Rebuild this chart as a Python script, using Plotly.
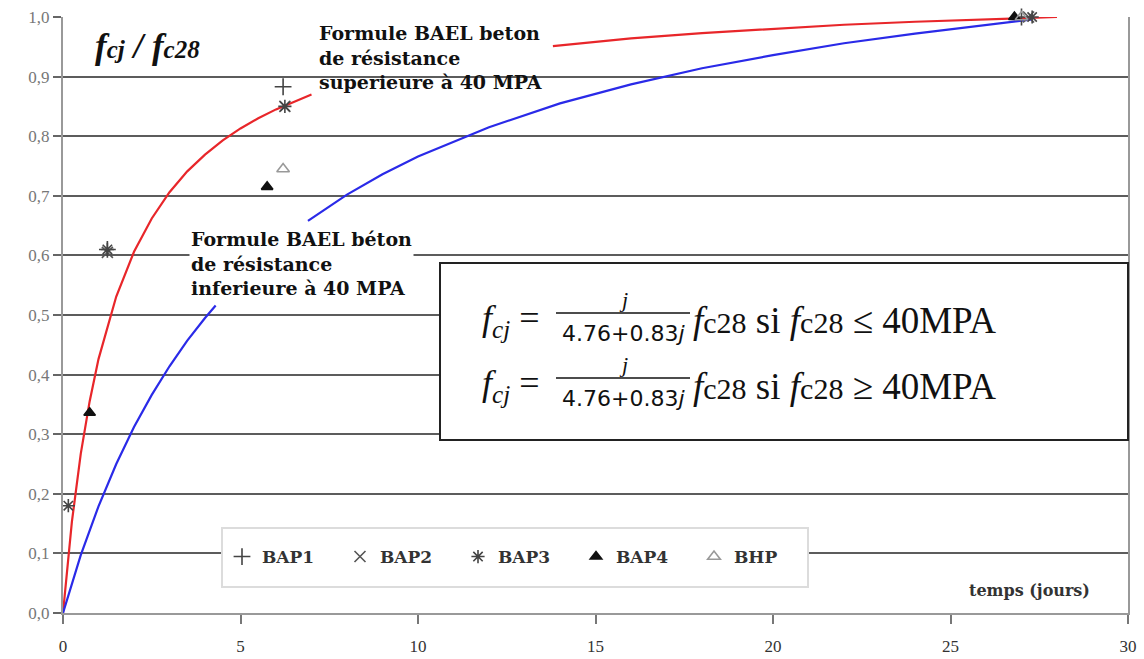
import plotly.graph_objects as go

# ---- curves (BAEL formulas) ----
red_x1 = [0, 0.25, 0.5, 0.75, 1, 1.5, 2, 2.5, 3, 3.5, 4, 4.5, 5, 5.5, 6, 6.5, 7]
red_y1 = [0, 0.153, 0.267, 0.355, 0.426, 0.531, 0.606, 0.662, 0.706, 0.741, 0.769,
          0.793, 0.813, 0.830, 0.845, 0.858, 0.870]
red_x2 = [13.8, 16, 18, 20, 22, 24, 26, 28]
red_y2 = [0.951, 0.964, 0.973, 0.980, 0.987, 0.992, 0.996, 1.0]

blue_x1 = [0, 0.5, 1, 1.5, 2, 2.5, 3, 3.5, 4, 4.3]
blue_y1 = [0, 0.097, 0.179, 0.250, 0.312, 0.366, 0.414, 0.457, 0.495, 0.516]
blue_x2 = [6.9, 8, 9, 10, 12, 14, 16, 18, 20, 22, 24, 26, 27.3]
blue_y2 = [0.658, 0.702, 0.736, 0.766, 0.815, 0.855, 0.887, 0.914, 0.936, 0.956,
           0.972, 0.987, 0.996]

# ---- measured points ----
bap1_x = [1.25, 6.2, 27.0]
bap1_y = [0.61, 0.883, 1.0]
bap2_x = [1.25, 6.25, 27.2]
bap2_y = [0.605, 0.85, 1.0]
bap3_x = [0.15, 1.25, 6.25, 27.3]
bap3_y = [0.18, 0.61, 0.85, 1.0]
bap4_x = [0.75, 5.75, 26.8]
bap4_y = [0.336, 0.715, 1.0]
bhp_x = [6.2, 27.0]
bhp_y = [0.745, 1.0]

x_ticks = [0, 5, 10, 15, 20, 25, 30]
y_ticks = [0, 0.1, 0.2, 0.3, 0.4, 0.5, 0.6, 0.7, 0.8, 0.9, 1.0]

W, H = 1144, 659
L, R, T, B = 63, 16, 17, 46
PW, PH = W - L - R, H - T - B


def px(xp):
    return (xp - L) / PW


def py(yp):
    return (H - B - yp) / PH


SERIF = "Liberation Serif"
WIDE = "DejaVu Serif"

fig = go.Figure()

for xs, ys, col in [(red_x1, red_y1, "#e8262a"), (red_x2, red_y2, "#e8262a"),
                    (blue_x1, blue_y1, "#2a2ae8"), (blue_x2, blue_y2, "#2a2ae8")]:
    fig.add_trace(go.Scatter(x=xs, y=ys, mode="lines", line=dict(color=col, width=2.2),
                             showlegend=False, hoverinfo="skip", cliponaxis=False))

markers = [
    ("BAP1", bap1_x, bap1_y, "cross-thin", "#444444", 12),
    ("BAP2", bap2_x, bap2_y, "x-thin", "#555555", 11),
    ("BAP3", bap3_x, bap3_y, "asterisk", "#444444", 11),
    ("BAP4", bap4_x, bap4_y, "triangle-up", "#111111", 10),
    ("BHP", bhp_x, bhp_y, "triangle-up-open", "#999999", 11),
]
for name, xs, ys, sym, col, sz in markers:
    fig.add_trace(go.Scatter(x=xs, y=ys, mode="markers", name=f"<b>{name}</b>",
                             marker=dict(symbol=sym, color=col, size=sz,
                                         line=dict(color=col, width=1.6)),
                             cliponaxis=False))

shapes = [
    # formula box
    dict(type="rect", xref="paper", yref="paper", x0=px(440), x1=px(1128),
         y0=py(440), y1=py(263), fillcolor="white", line=dict(color="#222", width=2),
         layer="above"),
    # legend frame
    dict(type="rect", xref="paper", yref="paper", x0=px(222), x1=px(808),
         y0=py(587), y1=py(528), fillcolor="white", line=dict(color="#dcdcdc", width=2),
         layer="above"),
]
annotations = []

for yc, rel in [(320, "≤"), (385, "≥")]:
    annotations.append(dict(xref="paper", yref="paper", x=px(551), y=py(yc), xanchor="right",
                            yanchor="middle", showarrow=False,
                            text="<i>f<sub>cj</sub></i>&nbsp;=&nbsp;",
                            font=dict(family=SERIF, size=36, color="#111")))
    annotations.append(dict(xref="paper", yref="paper", x=px(623), y=py(yc - 21), xanchor="center",
                            yanchor="middle", showarrow=False, text="<i>j</i>",
                            font=dict(family=SERIF, size=22, color="#111")))
    annotations.append(dict(xref="paper", yref="paper", x=px(623), y=py(yc + 13), xanchor="center",
                            yanchor="middle", showarrow=False, text="4.76+0.83<i>j</i>",
                            font=dict(family="DejaVu Sans", size=22, color="#111")))
    annotations.append(dict(xref="paper", yref="paper", x=px(691), y=py(yc + 1), xanchor="left",
                            yanchor="middle", showarrow=False,
                            text=(f"<i>f</i><span style='font-size:30px'>c28</span> si "
                                  f"<i>f</i><span style='font-size:30px'>c28</span> {rel} 40MPA"),
                            font=dict(family=SERIF, size=37, color="#111")))
    shapes.append(dict(type="line", xref="paper", yref="paper", x0=px(556), x1=px(690),
                       y0=py(yc - 7), y1=py(yc - 7), line=dict(color="#111", width=1.5),
                       layer="above"))

annotations += [
    dict(xref="paper", yref="paper", x=px(93), y=py(47), xanchor="left", yanchor="middle",
         showarrow=False,
         text="<b><i>f<span style='font-size:25px'>cj</span> / f<span style='font-size:25px'>c28</span></i></b>",
         font=dict(family=SERIF, size=35, color="#111")),
    dict(xref="paper", yref="paper", x=px(317), y=py(20), xanchor="left", yanchor="top",
         align="left", showarrow=False,
         text="<b>Formule BAEL beton<br>de résistance<br>superieure à 40 MPA</b>",
         font=dict(family=WIDE, size=19, color="#111")),
    dict(xref="paper", yref="paper", x=px(189), y=py(226), xanchor="left", yanchor="top",
         align="left", showarrow=False, bgcolor="white",
         text="<b>Formule BAEL béton<br>de résistance<br>inferieure à 40 MPA</b>",
         font=dict(family=WIDE, size=19, color="#111")),
    dict(xref="paper", yref="paper", x=px(1092), y=py(590), xanchor="right", yanchor="middle",
         showarrow=False, text="<b>temps (jours)</b>",
         font=dict(family=WIDE, size=16, color="#333")),
]

fig.update_layout(
    width=W, height=H,
    margin=dict(l=L, r=R, t=T, b=B, autoexpand=False),
    paper_bgcolor="white", plot_bgcolor="white",
    separators=", ",
    shapes=shapes,
    annotations=annotations,
    legend=dict(orientation="h", x=px(222), y=py(557), xanchor="left", yanchor="middle",
                bgcolor="rgba(0,0,0,0)", borderwidth=0,
                entrywidth=73, entrywidthmode="pixels", itemwidth=30,
                font=dict(family=WIDE, size=17, color="#333"),
                traceorder="normal"),
    xaxis=dict(range=[0, 30], tickvals=x_ticks, showgrid=False, zeroline=False,
               automargin=False,
               showline=True, linecolor="#999", linewidth=2, mirror=False,
               ticks="outside", ticklen=9, tickcolor="#777", tickwidth=1.5,
               ticklabelstandoff=8,
               tickfont=dict(family=SERIF, size=17, color="#333")),
    yaxis=dict(range=[0, 1.0], tickvals=y_ticks, tickformat=".1f", showgrid=True,
               automargin=False,
               gridcolor="#5c5c5c", gridwidth=2, zeroline=False,
               showline=True, linecolor="#999", linewidth=2, mirror=True,
               ticks="outside", ticklen=8, tickcolor="#666", tickwidth=2,
               tickfont=dict(family=SERIF, size=17, color="#777")),
)

fig.write_html("out.html", config={"displayModeBar": False},
               post_script="document.body.style.margin='0';document.body.style.overflow='hidden';")
